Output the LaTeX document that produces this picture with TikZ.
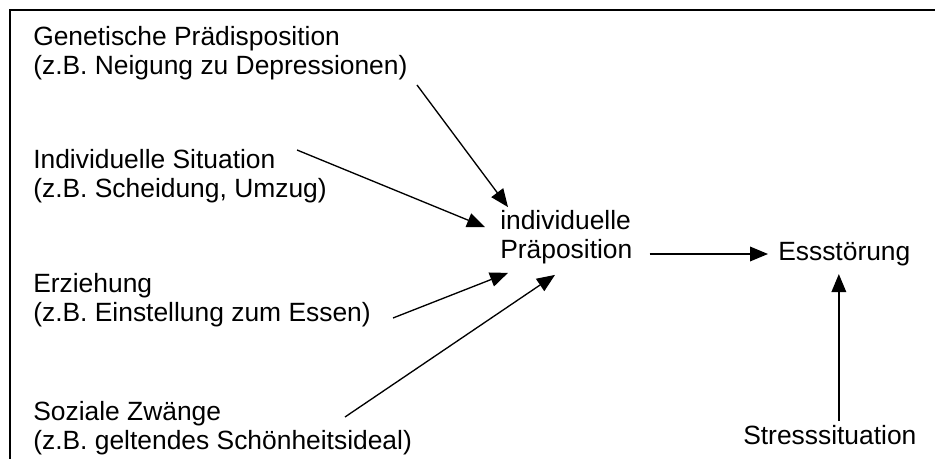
\documentclass[tikz,border=0pt]{standalone}
\usepackage{fontspec}
\setmainfont{Liberation Sans}
\usetikzlibrary{arrows.meta}

\begin{document}
\begin{tikzpicture}[
      x=0.75pt, y=-0.75pt,
      factor/.style={anchor=west, align=left, inner sep=0pt,
        font=\fontsize{19.8}{21.5}\selectfont},
      arrow/.style={-{Triangle[length=13.5pt, width=11pt]}, line width=1pt}
    ]
    \useasboundingbox (0,0) rectangle (935,459);
    \draw[line width=1.3pt] (935,10) -- (10,10) -- (10,459);
    % causes
    \node[factor] (gen) at (33,53) {Genetische Prädisposition\\(z.B. Neigung zu Depressionen)};
    \node[factor] (ind) at (33,176) {Individuelle Situation\\(z.B. Scheidung, Umzug)};
    \node[factor] (erz) at (33,300) {Erziehung\\(z.B. Einstellung zum Essen)};
    \node[factor] (soz) at (33,428) {Soziale Zwänge\\(z.B. geltendes Schönheitsideal)};
    \node[factor] (prae) at (500,237) {individuelle\\Präposition};
    \node[factor] (ess) at (778,254) {Essstörung};
    \node[factor] (stress) at (743,435) {Stresssituation};
    % free ends
    \coordinate (genout) at (417,85);
    \coordinate (indout) at (297,150);
    \coordinate (erzout) at (393,318);
    \coordinate (sozout) at (345,417);
    \draw[arrow] (genout) -- ([shift={(8,-3)}]prae.north west);
    \draw[arrow] (indout) -- ([shift={(-15,17)}]prae.north west);
    \draw[arrow] (erzout) -- ([shift={(8,9)}]prae.south west);
    \draw[arrow] (sozout) -- ([shift={(55,11)}]prae.south west);
    \draw[arrow] ([shift={(17,0)}]prae.east |- ess.west) -- ([shift={(-10,0)}]ess.west);
    \draw[arrow] ([shift={(9,-4)}]stress.north) coordinate (stresstop) -- ([shift={(0,8)}]ess.south -| stresstop);
\end{tikzpicture}
\end{document}
